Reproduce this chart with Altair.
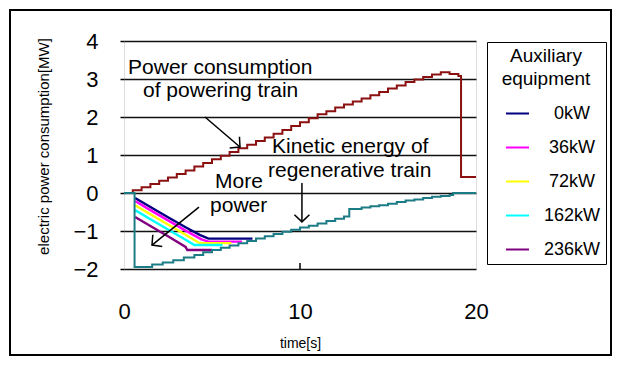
import altair as alt
import pandas as pd

# ---------------- data ----------------
red_t = [0.1, 0.5, 1.0, 1.5, 2.0, 2.5, 3.0, 3.5, 4.0, 4.5, 5.0, 5.5, 6.0, 6.5, 7.0, 7.5,
         8.0, 8.5, 9.0, 9.5, 10.0, 10.5, 11.0, 11.5, 12.0, 12.5, 13.0, 13.5, 14.0, 14.5,
         15.0, 15.5, 16.0, 16.5, 17.0, 17.5, 18.0, 18.5, 19.0, 19.15, 20.0]
red_y = [0.0, 0.07, 0.15, 0.24, 0.32, 0.41, 0.50, 0.59, 0.70, 0.79, 0.89, 0.98, 1.08, 1.18,
         1.27, 1.37, 1.46, 1.56, 1.66, 1.76, 1.86, 1.97, 2.07, 2.15, 2.25, 2.33, 2.41, 2.49,
         2.57, 2.66, 2.75, 2.83, 2.92, 2.99, 3.05, 3.12, 3.18, 3.13, 3.08, 0.42, 0.42]

teal_t = [0.0, 0.6, 1.6, 2.2, 2.8, 3.4, 4.0, 4.5, 5.0, 5.5, 6.0, 6.5, 7.0, 7.5, 8.0, 8.5,
          9.0, 9.5, 10.0, 10.5, 11.0, 11.5, 12.0, 12.5, 12.8, 13.5, 14.0, 14.5, 15.0, 15.5,
          16.0, 16.5, 17.0, 17.5, 18.0, 18.5, 18.7, 20.0]
teal_y = [0.0, -1.95, -1.88, -1.83, -1.77, -1.70, -1.63, -1.56, -1.50, -1.44, -1.38, -1.32,
          -1.26, -1.20, -1.14, -1.08, -1.02, -0.97, -0.91, -0.86, -0.80, -0.74, -0.68, -0.62,
          -0.42, -0.38, -0.35, -0.32, -0.28, -0.24, -0.20, -0.17, -0.13, -0.10, -0.08, -0.05,
          0.0, 0.0]

aux_names = ["0kW", "36kW", "72kW", "162kW", "236kW"]
aux_colors = ["#000080", "#FF00FF", "#FFFF00", "#00FFFF", "#800080"]
aux_t = [
    [0.63, 1.5, 2.5, 3.5, 4.3, 4.8, 7.3],
    [0.63, 1.5, 2.5, 3.5, 4.4, 4.8, 6.7],
    [0.63, 1.5, 2.5, 3.5, 4.3, 6.1],
    [0.63, 1.5, 2.5, 3.5, 4.0, 5.6],
    [0.63, 1.5, 2.5, 3.5, 3.6, 5.0],
]
aux_y = [
    [-0.13, -0.37, -0.64, -0.90, -1.10, -1.20, -1.20],
    [-0.21, -0.45, -0.72, -0.99, -1.22, -1.28, -1.28],
    [-0.32, -0.56, -0.83, -1.10, -1.32, -1.32],
    [-0.45, -0.69, -0.96, -1.23, -1.37, -1.37],
    [-0.63, -0.87, -1.14, -1.42, -1.50, -1.50],
]

x_ticks = [0, 10, 20]
y_ticks = [-2, -1, 0, 1, 2, 3, 4]

note_text = ["Power consumption", "of powering train", "Kinetic energy of",
             "regenerative train", "More", "power"]
note_t = [0.23, 1.08, 8.41, 8.18, 5.17, 4.89]
note_p = [3.13, 2.53, 1.05, 0.42, 0.13, -0.50]

arrow_t = [4.60, 10.11, 4.26]
arrow_p = [2.00, 0.26, -0.37]
arrow_t2 = [6.59, 10.11, 1.59]
arrow_p2 = [1.21, -0.76, -1.37]
arrow_angle = [310.6, 0.0, 51.0]

# ---------------- frames ----------------
red_df = pd.DataFrame({"t": red_t, "p": red_y})
teal_df = pd.DataFrame({"t": teal_t, "p": teal_y})
aux_rows = []
for name, ts, ps in zip(aux_names, aux_t, aux_y):
    for i, (t, p) in enumerate(zip(ts, ps)):
        aux_rows.append({"series": name, "t": t, "p": p, "i": i})
aux_df = pd.DataFrame(aux_rows)
note_df = pd.DataFrame({"t": note_t, "p": note_p, "label": note_text})
arrow_df = pd.DataFrame({"t": arrow_t, "p": arrow_p, "t2": arrow_t2, "p2": arrow_p2,
                         "angle": arrow_angle})
tick_df = pd.DataFrame({"t": [x_ticks[1]]})
one_df = pd.DataFrame({"a": [0]})

FONT = "Liberation Sans"
W, H = 352, 228

xs = alt.Scale(domain=[0, 20], nice=False, zero=False)
ys = alt.Scale(domain=[-2, 4], nice=False, zero=False)

x_axis = alt.Axis(values=x_ticks, title="time[s]", grid=False, domain=False, ticks=False,
                  labelFontSize=22, labelPadding=32, labelColor="black", labelFont=FONT,
                  labelFlush=False,
                  titleFontSize=14, titleFontWeight="normal", titleColor="black",
                  titleFont=FONT, titleX=176, titleY=74, titleBaseline="middle")
y_axis = alt.Axis(values=y_ticks, title="electric power consumption[MW]", grid=True,
                  gridColor="#111111", gridWidth=1.5, domain=False, ticks=True, tickSize=4,
                  tickColor="black", tickWidth=1.5, labelFlush=False,
                  labelFontSize=22, labelPadding=22, labelColor="black", labelFont=FONT,
                  titleFontSize=15, titleFontWeight="normal", titleColor="black",
                  titleFont=FONT, titleAngle=270, titleX=-81, titleY=105,
                  titleBaseline="middle", titleAlign="center")

X = alt.X("t:Q", scale=xs, axis=x_axis)
Y = alt.Y("p:Q", scale=ys, axis=y_axis)

outer = alt.Chart(one_df).mark_rect(fillOpacity=0, stroke="black", strokeWidth=2).encode(
    x=alt.value(-114), x2=alt.value(487), y=alt.value(-31), y2=alt.value(314))

red = alt.Chart(red_df).mark_line(interpolate="step-after", color="#8B1010",
                                  strokeWidth=2).encode(x=X, y=Y)

aux = alt.Chart(aux_df).mark_line(strokeWidth=2.4).encode(
    x=X, y=Y,
    order="i:Q",
    color=alt.Color("series:N",
                    scale=alt.Scale(domain=aux_names, range=aux_colors),
                    sort=aux_names,
                    legend=alt.Legend(
                        title=["Auxiliary", "equipment"], orient="none",
                        legendX=363, legendY=1, strokeColor="black", fillColor="white",
                        padding=5, symbolType="stroke", symbolSize=529,
                        symbolStrokeWidth=2, symbolOffset=13,
                        labelFontSize=18, labelFont=FONT,
                        labelColor="black", titleFontSize=19, titleFont=FONT,
                        titleFontWeight="normal", titleColor="black",
                        titleLineHeight=23, titleAlign="center", titleAnchor="middle",
                        titlePadding=12, rowPadding=12, labelAlign="center",
                        labelOffset=42)),
)

teal = alt.Chart(teal_df).mark_line(interpolate="step-after", color="#1C7C86",
                                    strokeWidth=2).encode(x=X, y=Y)

notes = alt.Chart(note_df).mark_text(align="left", baseline="alphabetic", fontSize=21,
                                     font=FONT, color="black").encode(
    x=X, y=Y, text="label:N")

shafts = alt.Chart(arrow_df).mark_rule(color="black", strokeWidth=1.5).encode(
    x=X, y=Y, x2="t2:Q", y2="p2:Q")

heads = alt.Chart(arrow_df).mark_point(
    shape="M -1 -0.95 L 0 0 L 1 -0.95", filled=False, stroke="black", strokeWidth=1.5,
    size=225, opacity=1).encode(
    x=alt.X("t2:Q", scale=xs, axis=x_axis), y=alt.Y("p2:Q", scale=ys, axis=y_axis),
    angle=alt.Angle("angle:Q", scale=None))

xtick = alt.Chart(tick_df).mark_rule(color="black", strokeWidth=1.5).encode(
    x=X, y=alt.value(H - 6), y2=alt.value(H))

chart = alt.layer(outer, red, aux, teal, shafts, heads, notes, xtick).properties(
    width=W, height=H,
    autosize=alt.AutoSizeParams(type="none"),
    padding={"left": 116, "top": 33, "right": 137, "bottom": 88},
).configure_view(stroke="black", strokeWidth=2).configure(font=FONT)

chart.save("out.html", embed_options={"renderer": "svg", "actions": False})
